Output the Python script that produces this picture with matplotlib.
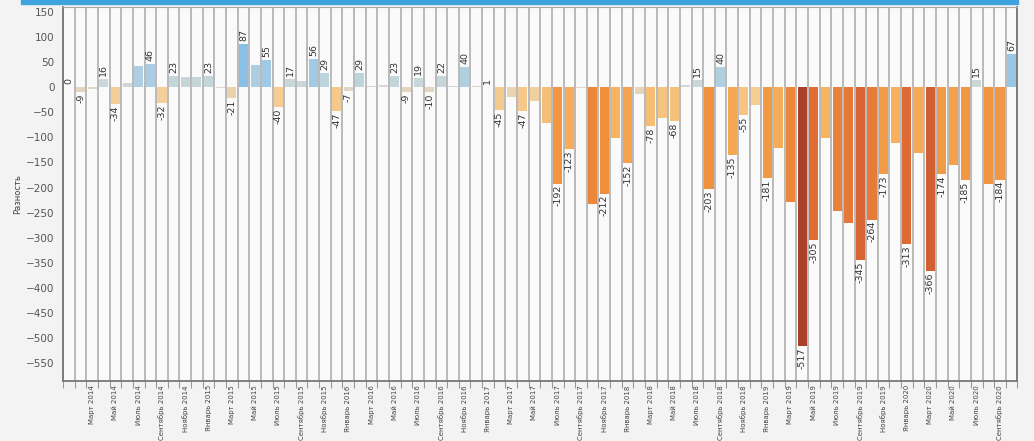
import numpy as np
import matplotlib.pyplot as plt
from matplotlib.colors import LinearSegmentedColormap
from matplotlib.patches import Rectangle

# monthly difference, January 2014 .. October 2020
years = list(range(2014, 2021))
month_names = ['Январь', 'Февраль', 'Март', 'Апрель', 'Май', 'Июнь', 'Июль',
               'Август', 'Сентябрь', 'Октябрь', 'Ноябрь', 'Декабрь']

values = [
    0, -9, -3, 16, -34, 8, 42, 46, -32, 23, 20, 21,            # 2014
    23, -2, -21, 87, 45, 55, -40, 17, 13, 56, 29, -47,         # 2015
    -7, 29, 3, 4, 23, -9, 19, -10, 22, 3, 40, 2,               # 2016
    1, -45, -20, -47, -27, -72, -192, -123, -1, -232, -212, -102,  # 2017
    -152, -13, -78, -61, -68, 5, 15, -203, 40, -135, -55, -35,     # 2018
    -181, -121, -229, -517, -305, -101, -247, -271, -345, -264, -173, -111,  # 2019
    -313, -132, -366, -174, -155, -185, 15, -192, -184, 67,        # 2020
]

# bars that carry a value label in the original
labeled = [0, 1, 3, 4, 7, 8, 9, 12, 14, 15, 17, 18, 19, 21, 22, 23, 24, 25,
           28, 29, 30, 31, 32, 34, 36, 37, 39, 42, 43, 46, 48, 50, 52, 54, 55,
           56, 57, 58, 60, 63, 64, 68, 69, 70, 72, 74, 75, 77, 78, 80, 81]

months = [f'{m} {y}' for y in years for m in month_names][:len(values)]
tick_idx = list(range(2, len(values), 2))

neg_cmap = LinearSegmentedColormap.from_list('neg', [
    (0.0, '#dcd8cc'), (0.06, '#f5cf98'), (0.2, '#f7b25e'),
    (0.4, '#f0903c'), (0.6, '#e06b34'), (1.0, '#a8402a')])
pos_cmap = LinearSegmentedColormap.from_list('pos', [
    (0.0, '#d6d8d2'), (0.25, '#c3d6da'), (0.55, '#a6cce4'), (1.0, '#88bfe6')])


def bar_color(v):
    if v < 0:
        return neg_cmap(min(-v / 517, 1))
    return pos_cmap(min(v / 90, 1))


fig = plt.figure(figsize=(10.34, 4.41), dpi=100, facecolor='#f3f3f3')
fig.add_artist(Rectangle((0.02, 0.992), 0.965, 0.008, transform=fig.transFigure,
                         color='#3fa3de', zorder=0))
ax = fig.add_axes([0.061, 0.136, 0.923, 0.848])
ax.set_facecolor('#fafafa')

x = np.arange(len(values))
colors = [bar_color(v) for v in values]
ax.bar(x, values, width=0.78, color=colors, zorder=3)

for i in labeled:
    v = values[i]
    if v >= 0:
        ax.annotate(f'{v}', (i, v), xytext=(0, 2), textcoords='offset points',
                    rotation=90, ha='center', va='bottom', fontsize=6.8,
                    color='#333333', zorder=4)
    else:
        ax.annotate(f'{v}', (i, v), xytext=(0, -1), textcoords='offset points',
                    rotation=90, ha='center', va='top', fontsize=6.8,
                    color='#333333', zorder=4)

ax.set_xlim(-0.5, len(values) - 0.5)
ax.set_ylim(-586, 160)
ax.set_yticks(np.arange(-550, 151, 50))
ax.tick_params(axis='y', length=0, labelsize=7.5, labelcolor='#555555', pad=6)

ax.set_xticks(tick_idx)
ax.set_xticklabels([months[i] for i in tick_idx], rotation=90, fontsize=5.0,
                   color='#444444')
ax.set_xticks(np.arange(-0.5, len(values), 1), minor=True)
ax.tick_params(axis='x', which='major', length=0, pad=3)
ax.tick_params(axis='x', which='minor', length=5, color='#999999', width=0.8)
ax.grid(axis='x', which='minor', color='#a8a8a8', linewidth=1.1, zorder=1)
ax.grid(axis='x', which='major', visible=False)

ax.set_ylabel('Разность', fontsize=6, color='#444444', labelpad=3)

for side in ['left', 'bottom', 'right']:
    ax.spines[side].set_color('#777777')
    ax.spines[side].set_linewidth(1.3)
ax.spines['top'].set_color('#aaaaaa')

fig.savefig('out.png', dpi=100, facecolor=fig.get_facecolor())
